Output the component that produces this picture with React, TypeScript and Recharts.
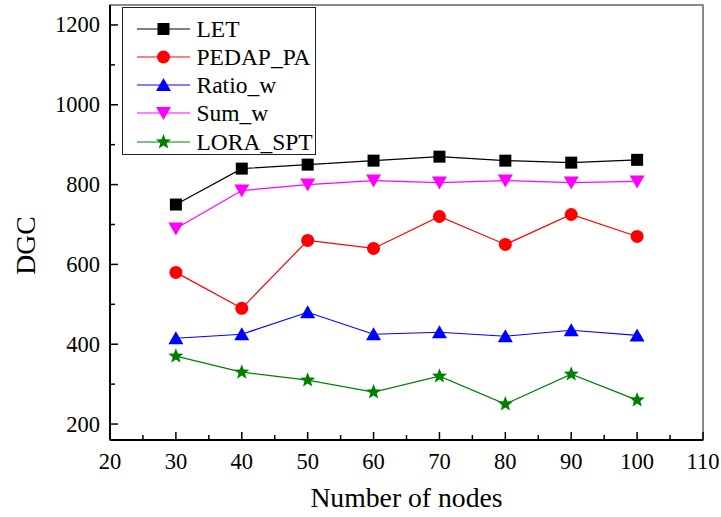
import React from 'react';
import { LineChart, Line, XAxis, YAxis, ReferenceArea, Legend, Label } from 'recharts';

const nodes = [30, 40, 50, 60, 70, 80, 90, 100];
const letValues = [750, 840, 850, 860, 870, 860, 855, 862];
const pedapValues = [580, 490, 660, 640, 720, 650, 725, 670];
const ratioValues = [415, 425, 480, 425, 430, 420, 435, 422];
const sumValues = [690, 785, 800, 810, 805, 810, 805, 808];
const loraValues = [370, 330, 310, 280, 320, 250, 325, 260];

const xMajorTicks = [20, 30, 40, 50, 60, 70, 80, 90, 100, 110];
const xMinorTicks = [25, 35, 45, 55, 65, 75, 85, 95, 105];
const yMajorTicks = [200, 400, 600, 800, 1000, 1200];
const yMinorTicks = [300, 500, 700, 900, 1100];

const series = [
  { key: 'let', name: 'LET', color: '#000000', shape: 'square' },
  { key: 'pedap', name: 'PEDAP_PA', color: '#ff0000', shape: 'circle' },
  { key: 'ratio', name: 'Ratio_w', color: '#0000ff', shape: 'up' },
  { key: 'sum', name: 'Sum_w', color: '#ff00ff', shape: 'down' },
  { key: 'lora', name: 'LORA_SPT', color: '#008000', shape: 'star' },
];

const data = nodes.map((n, i) => ({
  nodes: n,
  let: letValues[i],
  pedap: pedapValues[i],
  ratio: ratioValues[i],
  sum: sumValues[i],
  lora: loraValues[i],
}));

const FONT = '"Liberation Serif", "Times New Roman", serif';

const Marker = ({ shape, cx, cy, color }: any) => {
  if (cx == null || cy == null) return null;
  if (shape === 'square') return <rect x={cx - 6} y={cy - 6} width={12} height={12} fill={color} />;
  if (shape === 'circle') return <circle cx={cx} cy={cy} r={6.5} fill={color} />;
  if (shape === 'up')
    return <polygon points={`${cx - 7.5},${cy + 6} ${cx + 7.5},${cy + 6} ${cx},${cy - 7}`} fill={color} />;
  if (shape === 'down')
    return <polygon points={`${cx - 7.5},${cy - 6} ${cx + 7.5},${cy - 6} ${cx},${cy + 7}`} fill={color} />;
  const pts: string[] = [];
  for (let k = 0; k < 10; k++) {
    const r = k % 2 === 0 ? 8 : 3.4;
    const a = -Math.PI / 2 + (k * Math.PI) / 5;
    pts.push(`${cx + r * Math.cos(a)},${cy + r * Math.sin(a)}`);
  }
  return <polygon points={pts.join(' ')} fill={color} />;
};

const XTick = ({ x, y, payload }: any) => {
  const major = xMajorTicks.includes(payload.value);
  return (
    <g>
      <line x1={x} x2={x} y1={y} y2={y - (major ? 8 : 5)} stroke="#000" strokeWidth={1.5} />
      {major && (
        <text x={x} y={y + 21} textAnchor="middle" dominantBaseline="central" fontSize={22.5} fontFamily={FONT} fill="#000">
          {payload.value}
        </text>
      )}
    </g>
  );
};

const YTick = ({ x, y, payload }: any) => {
  const major = yMajorTicks.includes(payload.value);
  return (
    <g>
      <line x1={x} x2={x + (major ? 8 : 5)} y1={y} y2={y} stroke="#000" strokeWidth={1.5} />
      {major && (
        <text x={x - 10} y={y} textAnchor="end" dominantBaseline="central" fontSize={22.5} fontFamily={FONT} fill="#000">
          {payload.value}
        </text>
      )}
    </g>
  );
};

const LegendBox = () => (
  <div
    style={{
      border: '1.5px solid #222',
      background: '#fff',
      width: 194,
      height: 148,
      boxSizing: 'border-box',
      paddingTop: 6.5,
      fontFamily: FONT,
      fontSize: 23.5,
      color: '#000',
    }}
  >
    {series.map((s) => (
      <div key={s.key} style={{ height: 28.25, display: 'flex', alignItems: 'center' }}>
        <svg width={60} height={28} style={{ marginLeft: 13.5, flex: 'none' }}>
          <line x1={0} x2={53} y1={14} y2={14} stroke={s.color} strokeWidth={1.2} />
          <Marker shape={s.shape} cx={26.5} cy={14} color={s.color} />
        </svg>
        <span style={{ lineHeight: '28px' }}>{s.name}</span>
      </div>
    ))}
  </div>
);

export default function App() {
  return (
    <div style={{ position: 'absolute', left: 0, top: 0, width: 721, height: 517, background: '#fff' }}>
      <LineChart width={721} height={517} data={data} margin={{ top: 5, right: 18, bottom: 17, left: 30 }}>
        <ReferenceArea x1={20} x2={110} y1={160} y2={1250} fill="none" stroke="#666" strokeWidth={1.5} ifOverflow="visible" />
        <XAxis
          dataKey="nodes"
          type="number"
          domain={[20, 110]}
          ticks={[...xMajorTicks, ...xMinorTicks].sort((a, b) => a - b)}
          interval={0}
          height={60}
          tickSize={0}
          tickMargin={0}
          tickLine={false}
          tick={<XTick />}
          axisLine={{ stroke: '#000', strokeWidth: 2 }}
        >
          <Label
            content={({ viewBox }: any) => (
              <text
                x={viewBox.x + viewBox.width / 2}
                y={viewBox.y + 57}
                textAnchor="middle"
                dominantBaseline="central"
                fontSize={27.7}
                fontFamily={FONT}
                fill="#000"
              >
                Number of nodes
              </text>
            )}
          />
        </XAxis>
        <YAxis
          type="number"
          domain={[160, 1250]}
          ticks={[...yMajorTicks, ...yMinorTicks].sort((a, b) => a - b)}
          interval={0}
          width={80}
          tickSize={0}
          tickMargin={0}
          tickLine={false}
          tick={<YTick />}
          axisLine={{ stroke: '#000', strokeWidth: 2 }}
        >
          <Label
            content={({ viewBox }: any) => {
              const cx = viewBox.x - 5;
              const cy = viewBox.y + viewBox.height / 2 + 23;
              return (
                <text
                  x={cx}
                  y={cy}
                  transform={`rotate(-90 ${cx} ${cy})`}
                  textAnchor="middle"
                  dominantBaseline="central"
                  fontSize={27.7}
                  fontFamily={FONT}
                  fill="#000"
                >
                  DGC
                </text>
              );
            }}
          />
        </YAxis>
        {series.map((s) => (
          <Line
            key={s.key}
            dataKey={s.key}
            name={s.name}
            type="linear"
            stroke={s.color}
            strokeWidth={1.2}
            dot={(p: any) => <Marker key={`${s.key}-${p.index}`} shape={s.shape} cx={p.cx} cy={p.cy} color={s.color} />}
            activeDot={false}
            isAnimationActive={false}
          />
        ))}
        <Legend
          layout="vertical"
          align="center"
          verticalAlign="middle"
          content={<LegendBox />}
          wrapperStyle={{ position: 'absolute', left: 122, top: 7, width: 194, height: 148 }}
        />
      </LineChart>
    </div>
  );
}
